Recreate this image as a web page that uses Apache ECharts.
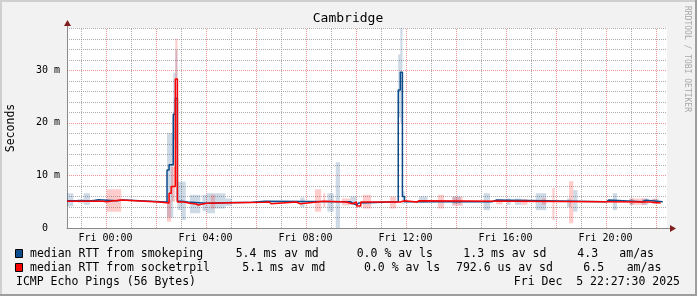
<!DOCTYPE html>
<html><head><meta charset="utf-8">
<script src="https://cdn.jsdelivr.net/npm/echarts@6/dist/echarts.min.js"></script>
<style>html,body{margin:0;padding:0;background:#f2f2f2}#c{width:697px;height:296px}</style>
</head><body><div id="c"></div>
<script>
// time axis in hours relative to Fri 00:00 (graph spans Thu 22:27:30 .. Fri 22:27:30)
const START_H = -1.5417;
const END_H = 22.4583;
const STEP_H = 5 / 60; // 5 minute samples
const labelHours = [0, 4, 8, 12, 16, 20];
const labelTexts = ['Fri 00:00', 'Fri 04:00', 'Fri 08:00', 'Fri 12:00', 'Fri 16:00', 'Fri 20:00'];
const minorHours = [-1, 1, 3, 5, 7, 9, 11, 13, 15, 17, 19, 21];
const majorHours = [0, 2, 4, 6, 8, 10, 12, 14, 16, 18, 20, 22];
const yMajor = [0, 10, 20, 30];
const yMajorGrid = [10, 20, 30];
const yMinor = [2, 4, 6, 8, 12, 14, 16, 18, 22, 24, 26, 28, 32, 34, 36, 38];
const Y_MAX = 38;

// median RTT (ms), step series: sample index where a level starts, and the level
const blueIdx = [0, 13, 15, 24, 27, 48, 49, 51, 52, 53, 55, 58, 67, 75, 89, 95, 136, 137, 139, 140, 159, 160, 161, 162, 204, 206, 259, 260, 276, 278];
const blueVal = [5.19, 5.38, 5.19, 5.30, 4.94, 11.0, 12.0, 21.6, 24.6, 5.07, 4.94, 4.69, 4.82, 4.88, 5.07, 5.0, 4.75, 4.37, 4.75, 5.0, 26.2, 29.6, 6.0, 5.0, 5.3, 5.0, 5.3, 5.0, 5.26, 5.0];
const blueEnd = 286;
const redIdx = [0, 17, 19, 26, 44, 49, 50, 52, 53, 56, 59, 62, 63, 67, 79, 95, 97, 98, 110, 112, 120, 123, 134, 137, 139, 141, 160, 162, 168, 169, 280];
const redVal = [5.1, 5.0, 5.3, 4.94, 4.75, 6.6, 7.9, 28.3, 4.94, 4.69, 4.56, 4.37, 4.69, 4.82, 4.88, 4.94, 4.6, 4.94, 4.6, 4.94, 5.1, 4.94, 4.6, 4.94, 4.18, 4.94, 5.19, 4.94, 5.19, 4.94, 4.75];
const redEnd = 285;

// smoke: [first sample, end sample (excl.), low ms, high ms]
const blueSmoke = [
  [0, 3, 4.1, 6.6], [5, 8, 4.8, 5.5], [8, 11, 4.4, 6.6], [12, 15, 5.0, 5.5],
  [48, 51, 2.0, 18.0], [51, 52, 16.7, 29.5], [52, 53, 15.0, 33.8],
  [53, 55, 3.4, 8.8], [55, 57, 1.5, 8.8], [59, 64, 2.8, 6.3], [65, 67, 3.2, 6.3],
  [67, 71, 2.8, 6.6], [71, 76, 3.7, 6.6], [76, 79, 4.2, 5.6],
  [112, 114, 4.0, 5.8], [125, 128, 3.1, 6.6], [129, 131, 0.0, 12.5], [136, 139, 4.4, 6.0],
  [159, 160, 21.0, 33.0], [160, 161, 20.0, 40.0], [161, 162, 4.5, 7.0],
  [169, 173, 4.8, 6.0], [185, 189, 4.5, 6.0],
  [200, 203, 3.4, 6.6], [211, 213, 4.4, 5.6], [215, 218, 4.4, 5.6], [225, 230, 3.4, 6.6],
  [240, 242, 4.0, 5.6], [243, 245, 3.1, 7.2], [262, 264, 3.4, 6.6], [270, 272, 4.4, 5.6],
  [276, 279, 4.4, 5.6], [281, 284, 4.6, 5.6]
];
const redSmoke = [
  [19, 26, 3.1, 7.35], [48, 50, 1.2, 5.3], [50, 52, 5.0, 11.6], [52, 53, 28.3, 36.0],
  [69, 71, 3.7, 6.3], [119, 122, 3.1, 7.35], [123, 124, 4.0, 6.6], [132, 136, 4.3, 5.6],
  [142, 146, 3.7, 6.3], [155, 158, 3.7, 5.95], [178, 181, 3.7, 6.3], [185, 190, 4.2, 5.9],
  [206, 209, 4.5, 5.5], [218, 221, 4.4, 5.5], [228, 230, 4.4, 5.6], [233, 234, 1.5, 7.6],
  [241, 243, 0.9, 8.9], [270, 278, 4.4, 5.6], [281, 283, 4.6, 5.5]
];

const BLUE = '#0c4c8c';
const RED = '#ff0000';
const FONT = 'DejaVu Sans Mono';

function tOf(i) { return START_H + i * STEP_H; }
function stepData(idx, val, end) {
  const d = idx.map((s, k) => [tOf(s), val[k]]);
  d.push([tOf(end), val[val.length - 1]]);
  return d;
}
function smokeData(arr) { return arr.map(r => [tOf(r[0]), tOf(r[1]), r[2], r[3]]); }
function smokeSeries(arr, color) {
  return {
    type: 'custom', clip: true, silent: true, z: 2,
    data: smokeData(arr),
    encode: { x: [0, 1], y: [2, 3] },
    renderItem: function (params, api) {
      const p0 = api.coord([api.value(0), api.value(3)]);
      const p1 = api.coord([api.value(1), api.value(2)]);
      return { type: 'rect', shape: { x: p0[0], y: p0[1], width: p1[0] - p0[0], height: p1[1] - p0[1] }, style: { fill: color } };
    }
  };
}
// dotted grid lines drawn through the axes' scales
function vGridSeries(hours, color) {
  return {
    type: 'custom', silent: true, z: 1, clip: false,
    data: hours.map(h => [h]),
    encode: { x: 0 },
    renderItem: function (params, api) {
      const a = api.coord([api.value(0), 0]);
      const b = api.coord([api.value(0), Y_MAX]);
      const x = Math.round(a[0]) + 0.5;
      return { type: 'line', shape: { x1: x, y1: a[1], x2: x, y2: b[1] }, style: { stroke: color, lineWidth: 1, lineDash: [1, 1] } };
    }
  };
}
function hGridSeries(vals, color) {
  return {
    type: 'custom', silent: true, z: 1, clip: false,
    data: vals.map(v => [START_H, v]),
    encode: { y: 1 },
    renderItem: function (params, api) {
      const a = api.coord([START_H, api.value(1)]);
      const b = api.coord([END_H, api.value(1)]);
      const y = Math.round(a[1]) + 0.5;
      return { type: 'line', shape: { x1: a[0], y1: y, x2: b[0], y2: y }, style: { stroke: color, lineWidth: 1, lineDash: [1, 1] } };
    }
  };
}

const gridGrey = 'rgba(143,143,143,0.75)';
const gridRed = 'rgba(222,79,79,0.6)';
const axisCol = '#8a8a8a';
const arrowCol = '#801f1f';
const LEG = '11.5px "DejaVu Sans Mono"';

const chart = echarts.init(document.getElementById('c'), null, { renderer: 'canvas' });
chart.setOption({
  backgroundColor: '#f2f2f2',
  animation: false,
  grid: { left: 67, top: 28, width: 600, height: 200, show: true, backgroundColor: '#ffffff', borderWidth: 0 },
  xAxis: {
    type: 'value', min: START_H, max: END_H, position: 'bottom',
    axisLine: { show: true, onZero: false, lineStyle: { color: axisCol, width: 1 } },
    axisTick: { show: false, customValues: labelHours },
    axisLabel: {
      customValues: labelHours, margin: 5, color: '#000', fontFamily: FONT, fontSize: 10,
      formatter: v => labelTexts[labelHours.indexOf(Math.round(v))] || ''
    },
    splitLine: { show: false }
  },
  yAxis: {
    type: 'value', min: 0, max: Y_MAX, position: 'left',
    axisLine: { show: true, onZero: false, lineStyle: { color: axisCol, width: 1 } },
    axisTick: { show: false, customValues: yMajor },
    axisLabel: {
      customValues: yMajor, margin: 7, color: '#000', fontFamily: FONT, fontSize: 10,
      formatter: v => (v === 0 ? '0  ' : v + ' m')
    },
    splitLine: { show: false }
  },
  series: [
    vGridSeries(minorHours, gridGrey),
    hGridSeries(yMinor, gridGrey),
    vGridSeries(majorHours, gridRed),
    hGridSeries(yMajorGrid, gridRed),
    smokeSeries(blueSmoke, 'rgba(30,80,140,0.22)'),
    smokeSeries(redSmoke, 'rgba(255,40,40,0.24)'),
    {
      type: 'line', name: 'smokeping', step: 'end', showSymbol: false, symbol: 'none',
      data: stepData(blueIdx, blueVal, blueEnd), lineStyle: { color: BLUE, width: 1.5 }, z: 3
    },
    {
      type: 'line', name: 'socketrpil', step: 'end', showSymbol: false, symbol: 'none',
      data: stepData(redIdx, redVal, redEnd), lineStyle: { color: RED, width: 1.5 }, z: 4
    }
  ],
  graphic: [
    // frame shading
    { type: 'rect', shape: { x: 0, y: 0, width: 697, height: 2 }, style: { fill: '#cfcfcf' }, silent: true },
    { type: 'rect', shape: { x: 0, y: 0, width: 2, height: 296 }, style: { fill: '#cfcfcf' }, silent: true },
    { type: 'rect', shape: { x: 0, y: 294, width: 697, height: 2 }, style: { fill: '#9e9e9e' }, silent: true },
    { type: 'rect', shape: { x: 695, y: 0, width: 2, height: 296 }, style: { fill: '#9e9e9e' }, silent: true },
    // axis extensions and arrows
    { type: 'line', shape: { x1: 667, y1: 228.5, x2: 671, y2: 228.5 }, style: { stroke: axisCol, lineWidth: 1 }, silent: true },
    { type: 'line', shape: { x1: 67.5, y1: 28, x2: 67.5, y2: 24 }, style: { stroke: axisCol, lineWidth: 1 }, silent: true },
    { type: 'polygon', shape: { points: [[670, 225], [676, 228.5], [670, 232]] }, style: { fill: arrowCol }, silent: true },
    { type: 'polygon', shape: { points: [[64, 26], [67.5, 20], [71, 26]] }, style: { fill: arrowCol }, silent: true },
    // title
    { type: 'text', x: 348, y: 19, style: { text: 'Cambridge', font: '13px "DejaVu Sans Mono"', fill: '#000', align: 'center', verticalAlign: 'middle' } },
    // vertical label
    { type: 'text', x: 11, y: 128, rotation: Math.PI / 2, style: { text: 'Seconds', font: LEG, fill: '#000', align: 'center', verticalAlign: 'middle' } },
    // watermark
    { type: 'text', x: 687, y: 59, rotation: -Math.PI / 2, style: { text: 'RRDTOOL / TOBI OETIKER', font: '8px "DejaVu Sans Mono"', fill: '#a8a8a8', align: 'center', verticalAlign: 'middle' } },
    // legend swatches
    { type: 'rect', shape: { x: 15.5, y: 249.5, width: 7, height: 8 }, style: { fill: BLUE, stroke: '#000', lineWidth: 1 } },
    { type: 'rect', shape: { x: 15.5, y: 263.5, width: 7, height: 8 }, style: { fill: RED, stroke: '#000', lineWidth: 1 } },
    // legend texts
    { type: 'text', x: 30, y: 254, style: { text: 'median RTT from smokeping', font: LEG, fill: '#000', verticalAlign: 'middle' } },
    { type: 'text', x: 235.7, y: 254, style: { text: '5.4 ms av md', font: LEG, fill: '#000', verticalAlign: 'middle' } },
    { type: 'text', x: 356.7, y: 254, style: { text: '0.0 % av ls', font: LEG, fill: '#000', verticalAlign: 'middle' } },
    { type: 'text', x: 463.3, y: 254, style: { text: '1.3 ms av sd', font: LEG, fill: '#000', verticalAlign: 'middle' } },
    { type: 'text', x: 577.3, y: 254, style: { text: '4.3', font: LEG, fill: '#000', verticalAlign: 'middle' } },
    { type: 'text', x: 619.3, y: 254, style: { text: 'am/as', font: LEG, fill: '#000', verticalAlign: 'middle' } },
    { type: 'text', x: 30, y: 268, style: { text: 'median RTT from socketrpil', font: LEG, fill: '#000', verticalAlign: 'middle' } },
    { type: 'text', x: 242.3, y: 268, style: { text: '5.1 ms av md', font: LEG, fill: '#000', verticalAlign: 'middle' } },
    { type: 'text', x: 364, y: 268, style: { text: '0.0 % av ls', font: LEG, fill: '#000', verticalAlign: 'middle' } },
    { type: 'text', x: 456, y: 268, style: { text: '792.6 us av sd', font: LEG, fill: '#000', verticalAlign: 'middle' } },
    { type: 'text', x: 583.3, y: 268, style: { text: '6.5', font: LEG, fill: '#000', verticalAlign: 'middle' } },
    { type: 'text', x: 626.7, y: 268, style: { text: 'am/as', font: LEG, fill: '#000', verticalAlign: 'middle' } },
    { type: 'text', x: 16, y: 282, style: { text: 'ICMP Echo Pings (56 Bytes)', font: LEG, fill: '#000', verticalAlign: 'middle' } },
    { type: 'text', x: 680, y: 282, style: { text: 'Fri Dec  5 22:27:30 2025', font: LEG, fill: '#000', align: 'right', verticalAlign: 'middle' } }
  ]
});
</script>
</body></html>
